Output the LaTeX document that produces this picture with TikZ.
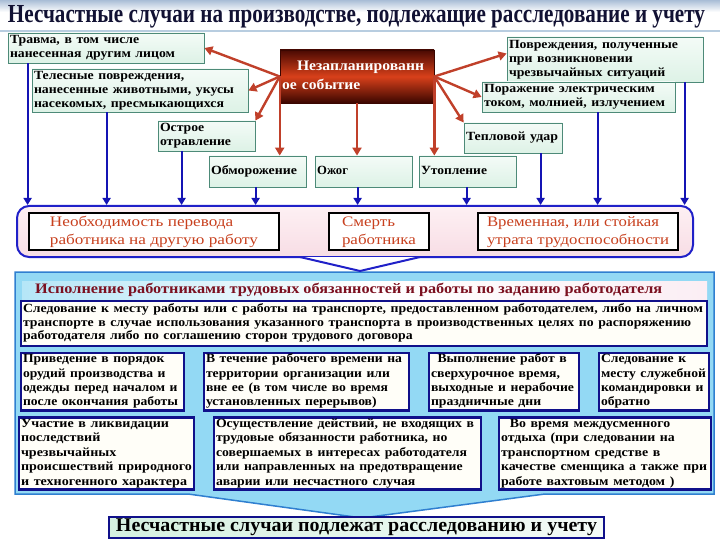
\documentclass[tikz,border=0pt]{standalone}
\usepackage{fontspec}
\setmainfont{Liberation Serif}
\usepackage{graphicx}
\usetikzlibrary{arrows.meta,calc}
\definecolor{tbord}{HTML}{4D8A78}
\definecolor{mintA}{HTML}{F4FBF7}
\definecolor{mintB}{HTML}{DDF2E6}
\definecolor{redarr}{HTML}{C0402A}
\definecolor{bluearr}{HTML}{1414B4}
\definecolor{pinkA}{HTML}{FDF0F3}
\definecolor{pinkB}{HTML}{F8DDE5}
\definecolor{pinkbord}{HTML}{2020C8}
\definecolor{pinktext}{HTML}{C8401E}
\definecolor{panelfill}{HTML}{93D9F4}
\definecolor{panelbord}{HTML}{2F7FD0}
\definecolor{navyb}{HTML}{10108A}
\definecolor{cream}{HTML}{FFFEF8}
\definecolor{maroon}{HTML}{7B1020}
\definecolor{evtdark}{HTML}{4A0A02}
\definecolor{evtmid}{HTML}{D8401A}
\definecolor{evtbot}{HTML}{3A0600}
\definecolor{titlecol}{HTML}{111133}
\definecolor{bandtop}{HTML}{A9BDD6}
\definecolor{bandline}{HTML}{B8CDE0}
\definecolor{hdrL}{HTML}{B5E6F7}
\definecolor{hdrR}{HTML}{FBEEF4}
\definecolor{finL}{HTML}{D5F0E0}
\definecolor{finR}{HTML}{F4FBF7}
\newcommand{\fitbox}[2]{\resizebox{#1}{\height}{\begin{tabular}{@{}l@{}}#2\end{tabular}}}
\begin{document}
\begin{tikzpicture}[x=1pt,y=-1pt,
  tbox/.style={draw=tbord, line width=0.8pt, top color=mintA, bottom color=mintB,
    inner xsep=2pt, inner ysep=0pt, align=left, font=\bfseries\fontsize{12.5}{14}\selectfont},
  pbox/.style={draw=navyb, line width=2.4pt, fill=cream,
    inner xsep=2pt, inner ysep=0pt, align=left, font=\bfseries\fontsize{12.5}{14.4}\selectfont},
  wbox/.style={draw=black, line width=1.6pt, fill=white, inner sep=0pt,
    text=pinktext, font=\fontsize{14.5}{18}\selectfont},
  rarrow/.style={draw=redarr, line width=2.4pt, -{Triangle[width=9pt,length=8pt]}},
  barrow/.style={draw=bluearr, line width=2.2pt, -{Triangle[width=8pt,length=7pt]}}
]
\useasboundingbox (0,0) rectangle (720,540);
% title band
\shade[top color=bandtop, bottom color=white] (0,0) rectangle (720,12);
\draw[bandline, line width=1.5pt] (0,31) -- (720,31);
\node[inner sep=0pt, text=titlecol, font=\bfseries\fontsize{26}{28}\selectfont] (title) at (356.5,17)
  {\resizebox{697pt}{\height}{Несчастные случаи на производстве, подлежащие расследование и учету}};

% central event
\node[draw=evtbot, line width=0.6pt, top color=evtdark, bottom color=evtbot, middle color=evtmid,
  minimum width=154pt, minimum height=53pt, text width=150pt, inner xsep=2pt, inner ysep=0pt,
  align=left, text=white, font=\bfseries\fontsize{14.5}{19}\selectfont] (evt) at (357,76.5)
  {\fitbox{142pt}{\hspace{14pt}Незапланированн\\ое событие}};

% top boxes
\node[tbox, minimum width=196pt, minimum height=30pt, text width=192pt] (trav) at (106,48)
  {\fitbox{165pt}{Травма, в том числе\\нанесенная другим лицом}};
\node[tbox, minimum width=216pt, minimum height=43pt, text width=212pt] (tel) at (140,90.5)
  {\fitbox{200pt}{Телесные повреждения,\\нанесенные животными, укусы\\насекомых, пресмыкающихся}};
\node[tbox, minimum width=97pt, minimum height=30pt, text width=93pt] (ostr) at (206.5,136)
  {\fitbox{71pt}{Острое\\отравление}};
\node[tbox, minimum width=97pt, minimum height=31pt, text width=93pt] (obm) at (257.5,171.5)
  {\fitbox{86pt}{Обморожение}};
\node[tbox, minimum width=97pt, minimum height=31pt, text width=93pt] (ozh) at (363.5,171.5)
  {\fitbox{31pt}{Ожог}};
\node[tbox, minimum width=97pt, minimum height=31pt, text width=93pt] (uto) at (467.5,171.5)
  {\fitbox{66pt}{Утопление}};
\node[tbox, minimum width=98pt, minimum height=30pt, text width=94pt] (tep) at (513,138)
  {\fitbox{92pt}{Тепловой удар}};
\node[tbox, minimum width=196pt, minimum height=45pt, text width=192pt] (pov) at (605,59.5)
  {\fitbox{169pt}{Повреждения, полученные\\при возникновении\\чрезвычайных ситуаций}};
\node[tbox, minimum width=193pt, minimum height=30pt, text width=189pt] (por) at (578.5,97)
  {\fitbox{181pt}{Поражение электрическим\\током, молнией, излучением}};

% red connectors
\draw[rarrow] (evt.west) -- (trav.east);
\draw[rarrow] (evt.west) -- (tel.east);
\draw[rarrow] (evt.west) -- (ostr.north east);
\draw[rarrow] (evt.west) -- (evt.west |- obm.north);
\draw[rarrow] (evt.south) -- (evt.south |- ozh.north);
\draw[rarrow] (evt.east) -- (evt.east |- uto.north);
\draw[rarrow] (evt.east) -- (tep.north west);
\draw[rarrow] (evt.east) -- (por.west);
\draw[rarrow] (evt.east) -- ($(pov.west)+(0,-6)$);

% pink consequences panel
\node[draw=pinkbord, line width=2pt, rounded corners=12pt, top color=pinkA, bottom color=pinkB,
  minimum width=676pt, minimum height=51pt, inner sep=0pt] (pink) at (355,231.5) {};
\node[wbox, minimum width=250pt, minimum height=37pt] (pb1) at (154,231.5)
  {\fitbox{208pt}{Необходимость перевода\\работника на другую работу}};
\node[wbox, minimum width=100pt, minimum height=37pt] (pb2) at (379,231.5)
  {\fitbox{74pt}{Смерть\\работника}};
\node[wbox, minimum width=200pt, minimum height=37pt] (pb3) at (578,231.5)
  {\fitbox{182pt}{Временная, или стойкая\\утрата трудоспособности}};

% blue connectors
\coordinate (b1) at ([xshift=20pt]trav.south west);
\coordinate (b2) at ([xshift=75pt]tel.south west);
\coordinate (b3) at ([xshift=24pt]ostr.south west);
\coordinate (b4) at ([xshift=47pt]obm.south west);
\coordinate (b5) at ([xshift=43pt]ozh.south west);
\coordinate (b6) at ([xshift=48pt]uto.south west);
\coordinate (b7) at ([xshift=77pt]tep.south west);
\coordinate (b8) at ([xshift=116pt]por.south west);
\coordinate (b9) at ([xshift=178pt]pov.south west);
\foreach \c in {b1,b2,b3,b4,b5,b6,b7,b8,b9}
  \draw[barrow] (\c) -- (\c |- pink.north);

% big light blue panel with funnel
\draw[panelbord, line width=1.5pt, fill=panelfill]
  (15,272) -- (714,272) -- (714,494) -- (545,494) -- (362,518) -- (188,494) -- (15,494) -- cycle;
% chevron from pink panel
\draw[pinkbord, line width=2pt, fill=white] (300,257) -- (360,271) -- (420,257);

% header band
\shade[left color=hdrL, right color=hdrR, middle color=white] (22,281) rectangle (707,299);
\node[anchor=west, inner sep=0pt, text=maroon, font=\bfseries\fontsize{14.5}{16}\selectfont] (hdr) at (35,290)
  {\resizebox{627pt}{\height}{Исполнение работниками трудовых обязанностей и работы по заданию работодателя}};

% panel boxes
\node[pbox, minimum width=686pt, minimum height=45pt, text width=682pt, font=\bfseries\fontsize{12.5}{13.5}\selectfont] (wide) at (364,323.5)
  {\fitbox{680pt}{Следование к месту работы или с работы на транспорте, предоставленном работодателем, либо на личном\\транспорте в случае использования указанного транспорта в производственных целях по распоряжению\\работодателя либо по соглашению сторон трудового договора}};
\node[pbox, minimum width=163pt, minimum height=57pt, text width=159pt] (r2a) at (102.5,381.5)
  {\fitbox{155pt}{Приведение в порядок\\орудий производства и\\одежды перед началом и\\после окончания работы}};
\node[pbox, minimum width=205pt, minimum height=57pt, text width=201pt] (r2b) at (306.5,381.5)
  {\fitbox{196pt}{В течение рабочего времени на\\территории организации или\\вне ее (в том числе во время\\установленных перерывов)}};
\node[pbox, minimum width=150pt, minimum height=57pt, text width=146pt] (r2c) at (504,381.5)
  {\fitbox{143pt}{\hspace{6pt}Выполнение работ в\\сверхурочное время,\\выходные и нерабочие\\праздничные дни}};
\node[pbox, minimum width=110pt, minimum height=57pt, text width=106pt] (r2d) at (654,381.5)
  {\fitbox{105pt}{Следование к\\месту служебной\\командировки и\\обратно}};
\node[pbox, minimum width=175pt, minimum height=71pt, text width=171pt] (r3a) at (106.5,453.5)
  {\fitbox{171pt}{Участие в ликвидации\\последствий\\чрезвычайных\\происшествий природного\\и техногенного характера}};
\node[pbox, minimum width=267pt, minimum height=71pt, text width=263pt] (r3b) at (347.5,453.5)
  {\fitbox{258pt}{Осуществление действий, не входящих в\\трудовые обязанности работника, но\\совершаемых в интересах работодателя\\или направленных на предотвращение\\аварии или несчастного случая}};
\node[pbox, minimum width=212pt, minimum height=71pt, text width=208pt] (r3c) at (605,453.5)
  {\fitbox{206pt}{\hspace{8pt}Во время междусменного\\отдыха (при следовании на\\транспортном средстве в\\качестве сменщика а также при\\работе вахтовым методом )}};

% final box
\node[draw=navyb, line width=2pt, left color=finL, right color=finR, minimum width=495pt, minimum height=21pt,
  inner sep=0pt, font=\bfseries\fontsize{19.5}{21}\selectfont] (fin) at (356.5,527)
  {\resizebox{481pt}{\height}{Несчастные случаи подлежат расследованию и учету}};
\end{tikzpicture}
\end{document}
